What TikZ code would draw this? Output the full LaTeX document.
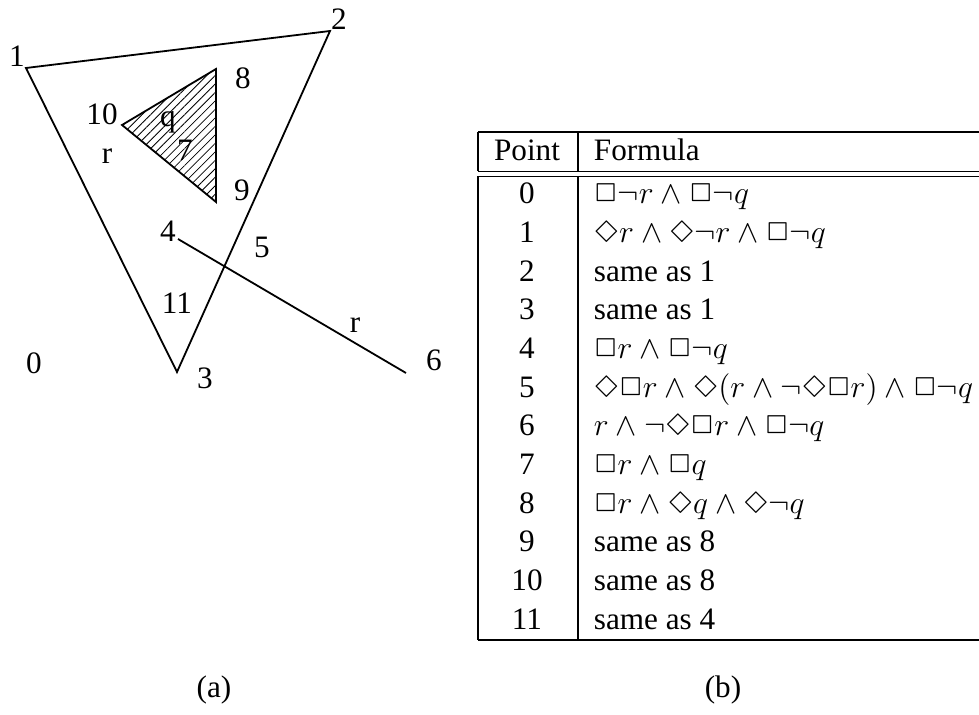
\RequirePackage{fix-cm}
\documentclass[tikz,border=0pt]{standalone}
\usepackage{amsmath, latexsym}
\usepackage{fontspec}
\setmainfont{Liberation Serif}
\usetikzlibrary{patterns.meta}
\newcommand{\fml}[1]{{\fontsize{15.9}{19}\selectfont$#1$}}

\begin{document}
\begin{tikzpicture}[x=0.5pt, y=-0.5pt, line width=0.9pt,
  lbl/.style={font=\fontsize{15.6}{19}\selectfont, inner sep=0pt},
  cell/.style={lbl, anchor=base},
  form/.style={lbl, anchor=base west},
  rule/.style={line width=0.6pt}]
  \useasboundingbox (0,0) rectangle (979,715);
  \coordinate (c1) at (26,68);
  \coordinate (c2) at (330,31);
  \coordinate (c3) at (177,372);
  \coordinate (t10) at (122,125);
  \coordinate (t8) at (216,69);
  \coordinate (t9) at (216,202);
  \coordinate (s4) at (178,239);
  \coordinate (s6) at (406,373);
  \draw (c1) -- (c2) -- (c3) -- cycle;
  \draw[pattern={Lines[angle=45, distance=3pt, line width=0.4pt]}] (t10) -- (t8) -- (t9) -- cycle;
  \draw (s4) -- (s6);
  \node[lbl] (p1) at (17,56) {1};
  \node[lbl] (p2) at (339,19) {2};
  \node[lbl] (p3) at (205,378) {3};
  \node[lbl] (p4) at (168,231) {4};
  \node[lbl] (p5) at (262,247) {5};
  \node[lbl] (p6) at (434,360) {6};
  \node[lbl] (p7) at (185,150) {7};
  \node[lbl] (p8) at (243,78) {8};
  \node[lbl] (p9) at (242,190) {9};
  \node[lbl] (p10) at (102,114) {10};
  \node[lbl] (p11) at (177,303) {11};
  \node[lbl] (p0) at (34,363) {0};
  \node[lbl] (q) at (168,122) {q};
  \node[lbl] (r1) at (107,156) {r};
  \node[lbl] (r2) at (355,325) {r};
  \node[lbl] (capa) at (214,690) {(a)};
  \node[lbl] (capb) at (723,690) {(b)};
  \draw[rule] (478,132) -- (979,132);
  \draw[rule] (478,171.5) -- (979,171.5);
  \draw[rule] (478,176.5) -- (979,176.5);
  \draw[rule] (478,640) -- (979,640);
  \draw[rule] (478,132) -- (478,171.5) (578,132) -- (578,171.5);
  \draw[rule] (478,176.5) -- (478,640) (578,176.5) -- (578,640);
  \node[cell] (hpt) at (527,161) {Point};
  \node[form] (hfm) at (593,161) {Formula};
  \foreach \n/\f in {0/{\fml{\Box\neg r \wedge \Box\neg q}},
      1/{\fml{\Diamond r \wedge \Diamond\neg r \wedge \Box\neg q}},
      2/{same as 1}, 3/{same as 1},
      4/{\fml{\Box r \wedge \Box\neg q}},
      5/{\fml{\Diamond\Box r \wedge \Diamond(r \wedge \neg\Diamond\Box r) \wedge \Box\neg q}},
      6/{\fml{r \wedge \neg\Diamond\Box r \wedge \Box\neg q}},
      7/{\fml{\Box r \wedge \Box q}},
      8/{\fml{\Box r \wedge \Diamond q \wedge \Diamond\neg q}},
      9/{same as 8}, 10/{same as 8}, 11/{same as 4}} {
    \node[cell] (pt\n) at (527,204+38.65*\n) {\n};
    \node[form] (fm\n) at (593,204+38.65*\n) {\f};
  }
\end{tikzpicture}
\end{document}
